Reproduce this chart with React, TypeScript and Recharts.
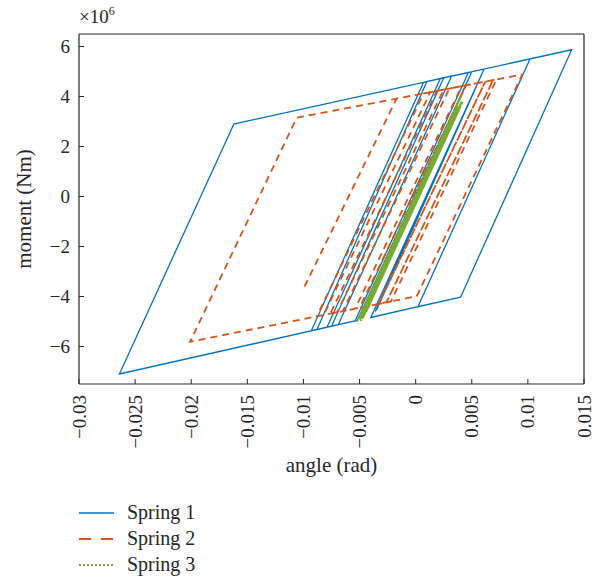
import React from 'react'
import { Line, LineChart, XAxis, YAxis } from 'recharts'

// hysteresis paths: rotation angle (rad) vs moment (x10^6 Nm), turning points in order
const spring1Angle = [0, 0.005, -0.0052, -0.0093, 0.0007, 0.0022, -0.0079, -0.0088, 0.001, 0.0032, -0.0069, -0.0075, 0.0025, 0.0047, -0.0054, -0.0264, -0.0162, 0.0139, 0.004, 0.0002, 0.0102, 0.0002, -0.004, 0.0061, -0.0036, 0.006, -0.0035]
const spring1Moment = [0, 4.99, -4.96, -5.37, 4.57, 4.72, -5.23, -5.32, 4.6, 4.82, -5.13, -5.19, 4.75, 4.96, -4.98, -7.1, 2.9, 5.87, -4.03, -4.41, 5.51, -4.41, -4.84, 5.1, -4.6, 5.0, -4.55]

const spring2Angle = [-0.0099, -0.0017, 0.0013, -0.0082, -0.0088, 0.0007, 0.0025, -0.007, -0.0076, 0.0019, 0.0041, -0.0054, -0.0065, 0.003, 0.0072, -0.0022, -0.0201, -0.0106, 0.0095, 0.0001, -0.0026, 0.0069, -0.0026, -0.0033, 0.0062, -0.0033, -0.005, 0.0045, -0.0004]
const spring2Moment = [-3.6, 3.92, 4.17, -4.74, -4.79, 4.12, 4.28, -4.63, -4.68, 4.23, 4.41, -4.49, -4.59, 4.32, 4.68, -4.2, -5.81, 3.15, 4.88, -3.99, -4.23, 4.66, -4.23, -4.3, 4.59, -4.3, -4.45, 4.45, -0.16]

const spring3Angle = [0, 0.0041, -0.0052, 0.0038, -0.0048, 0.0042, -0.0044, 0.0040, -0.0049, 0.0041, -0.0047, 0.0039, -0.0050, 0.0036, 0]
const spring3Moment = [0, 4.07, -5.0, 3.6, -4.8, 3.8, -4.6, 3.7, -4.98, 3.79, -4.85, 3.5, -4.9, 3.4, -0.1]

const angleTicks = [-0.03, -0.025, -0.02, -0.015, -0.01, -0.005, 0, 0.005, 0.01, 0.015]
const momentTicks = [-6, -4, -2, 0, 2, 4, 6]

const seriesNames = ['Spring 1', 'Spring 2', 'Spring 3']

const zip = (a: number[], m: number[]) => a.map((v, i) => ({ angle: v, moment: m[i] }))

const spring1 = zip(spring1Angle, spring1Moment)
const spring2 = zip(spring2Angle, spring2Moment)
const spring3 = zip(spring3Angle, spring3Moment)

const BLUE = '#0072BD'
const RED = '#D95319'
const GREEN = '#77AC30'
const INK = '#262626'
const FONT = '"Liberation Serif", "DejaVu Serif", serif'

const fmt = (v: number) => (v < 0 ? '\u2212' + String(Math.abs(v)) : String(v))

const AngleTick = (props: any) => {
    const { x, y, payload } = props
    return (
        <text
            transform={`translate(${x}, ${y}) rotate(-90)`}
            textAnchor="end"
            dominantBaseline="central"
            fontSize={19}
            fill={INK}
            fontFamily={FONT}
        >
            {fmt(payload.value)}
        </text>
    )
}

// mirrored axes only carry the inward tick marks
const NoLabel = () => <g />

const legendRows = [
    { color: BLUE, dash: undefined, width: 1.4 },
    { color: RED, dash: '12 10', width: 2 },
    { color: GREEN, dash: '2 2', width: 2 },
]

export default function App() {
    return (
        <div style={{ position: 'absolute', left: 0, top: 0, width: 599, height: 576, background: '#fff', fontFamily: FONT }}>
            <LineChart
                width={599}
                height={576}
                margin={{ top: 33, right: 14, left: 0, bottom: 104 }}
            >
                <XAxis
                    dataKey="angle"
                    type="number"
                    domain={[-0.03, 0.015]}
                    ticks={angleTicks}
                    allowDataOverflow
                    height={88}
                    tickSize={-5}
                    tickMargin={16}
                    axisLine={{ stroke: INK, strokeWidth: 1.2 }}
                    tickLine={{ stroke: INK }}
                    tick={<AngleTick />}
                    interval={0}
                    label={({ viewBox }: any) => (
                        <text
                            x={viewBox.x + viewBox.width / 2}
                            y={viewBox.y + viewBox.height}
                            textAnchor="middle"
                            fontSize={21}
                            fill={INK}
                            fontFamily={FONT}
                        >
                            angle (rad)
                        </text>
                    )}
                />
                <XAxis
                    xAxisId="top"
                    orientation="top"
                    type="number"
                    domain={[-0.03, 0.015]}
                    ticks={angleTicks}
                    height={1}
                    tickSize={-5}
                    tickMargin={0}
                    axisLine={{ stroke: INK, strokeWidth: 1.2 }}
                    tickLine={{ stroke: INK }}
                    tick={<NoLabel />}
                    interval={0}
                    label={() => (
                        <text x={79} y={23} fontSize={19} fill={INK} fontFamily={FONT}>
                            {'\u00d710'}
                            <tspan dy={-8} fontSize={12}>6</tspan>
                        </text>
                    )}
                />
                <YAxis
                    dataKey="moment"
                    type="number"
                    domain={[-7.5, 6.5]}
                    ticks={momentTicks}
                    allowDataOverflow
                    width={79}
                    tickSize={-5}
                    tickMargin={14}
                    interval={0}
                    axisLine={{ stroke: INK, strokeWidth: 1.2 }}
                    tickLine={{ stroke: INK }}
                    tick={{ fontSize: 19, fill: INK, fontFamily: FONT }}
                    tickFormatter={fmt}
                    label={({ viewBox }: any) => (
                        <text
                            transform={`translate(31, ${viewBox.y + viewBox.height / 2}) rotate(-90)`}
                            textAnchor="middle"
                            fontSize={21}
                            fill={INK}
                            fontFamily={FONT}
                        >
                            moment (Nm)
                        </text>
                    )}
                />
                <YAxis
                    yAxisId="right"
                    orientation="right"
                    type="number"
                    domain={[-7.5, 6.5]}
                    ticks={momentTicks}
                    width={1}
                    tickSize={-5}
                    tickMargin={0}
                    interval={0}
                    axisLine={{ stroke: INK, strokeWidth: 1.2 }}
                    tickLine={{ stroke: INK }}
                    tick={<NoLabel />}
                />
                <Line
                    data={spring1}
                    dataKey="moment"
                    name={seriesNames[0]}
                    stroke={BLUE}
                    strokeWidth={1.3}
                    dot={false}
                    isAnimationActive={false}
                />
                <Line
                    data={spring2}
                    dataKey="moment"
                    name={seriesNames[1]}
                    stroke={RED}
                    strokeWidth={1.8}
                    strokeDasharray="7 5"
                    dot={false}
                    isAnimationActive={false}
                />
                <Line
                    data={spring3}
                    dataKey="moment"
                    name={seriesNames[2]}
                    stroke={GREEN}
                    strokeWidth={2}
                    strokeDasharray="3 1"
                    dot={false}
                    isAnimationActive={false}
                />
            </LineChart>
            <svg width={599} height={80} style={{ position: 'absolute', left: 0, top: 496 }}>
                {legendRows.map((r, i) => {
                    const cy = 17 + i * 26
                    return (
                        <g key={seriesNames[i]}>
                            <line x1={79} x2={114} y1={cy} y2={cy} stroke={r.color} strokeWidth={r.width} strokeDasharray={r.dash} />
                            <text x={127} y={cy + 6} fontSize={20} fill={INK} fontFamily={FONT}>
                                {seriesNames[i]}
                            </text>
                        </g>
                    )
                })}
            </svg>
        </div>
    )
}
